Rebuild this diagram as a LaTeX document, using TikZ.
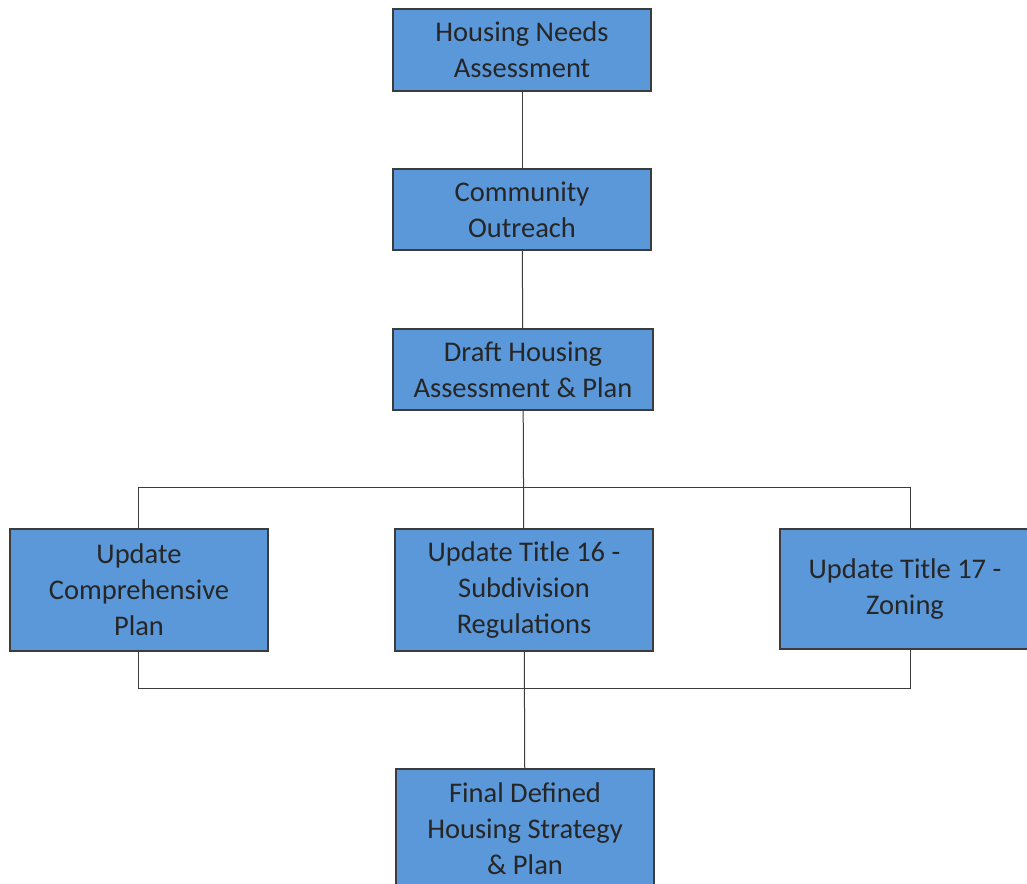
\documentclass[tikz,border=0pt]{standalone}
\usepackage{fontspec}
\setmainfont{Carlito}
\definecolor{boxblue}{RGB}{91,152,217}
\definecolor{edge}{RGB}{60,60,60}
\definecolor{txt}{RGB}{38,38,38}
\begin{document}
\begin{tikzpicture}[x=1pt,y=-1pt,
  box/.style={draw=edge, line width=1.2pt, fill=boxblue, text=txt, align=center,
    minimum width=258pt, inner sep=0pt, font=\fontsize{28.5}{36}\selectfont},
  link/.style={draw=edge, line width=1pt}]
\useasboundingbox (0,0) rectangle (1027,883);
\begin{scope}
\clip (0,0) rectangle (1027,883);
\node[box, minimum height=82pt] (a) at (522,50) {Housing Needs\\Assessment};
\node[box, minimum height=81pt] (b) at (522,209.5) {Community\\Outreach};
\node[box, minimum height=81pt, minimum width=260pt] (c) at (523,369.5) {Draft Housing\\Assessment \& Plan};
\node[box, minimum height=122pt] (l) at (139,590) {Update\\Comprehensive\\Plan};
\node[box, minimum height=122pt] (m) at (524,590) {Update Title 16 -\\Subdivision\\Regulations};
\node[box, minimum height=120pt, minimum width=250pt] (r) at (905,589) {Update Title 17 -\\Zoning};
\node[box, minimum height=120pt] (f) at (525,829) {Final Defined\\Housing Strategy\\\& Plan};
\coordinate (tl) at (138,487);
\coordinate (tr) at (910,487);
\coordinate (bl) at (138,688);
\coordinate (br) at (910,688);
\draw[link] (a) -- (b);
\draw[link] (b) -- (c);
\draw[link] (c) -- (m);
\draw[link] (tl |- l.north) -- (tl) -- (tr) -- (tr |- r.north);
\draw[link] (bl |- l.south) -- (bl) -- (br) -- (br |- r.south);
\draw[link] (m) -- (f);
\end{scope}
\end{tikzpicture}
\end{document}
